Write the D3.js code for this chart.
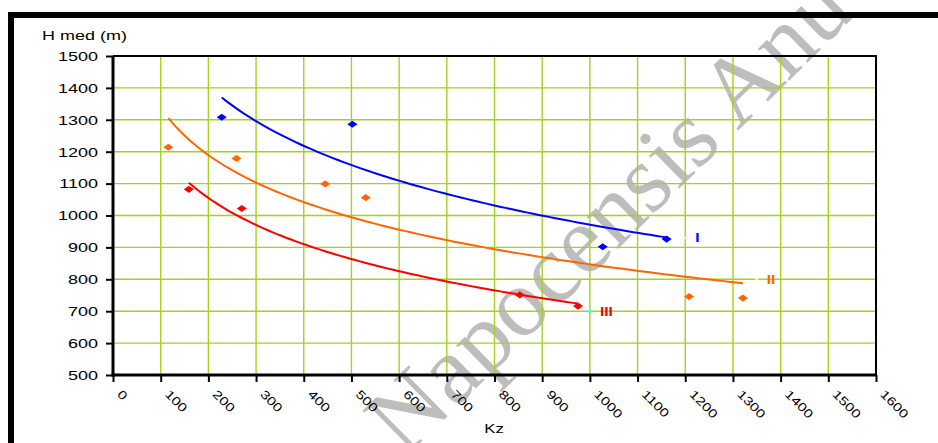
<!DOCTYPE html>
<html>
<head>
<meta charset="utf-8">
<script src="https://cdn.jsdelivr.net/npm/d3@7"></script>
<style>
  body { margin: 0; background: #fff; }
  svg { display: block; }
  text { font-family: "Liberation Sans", Arial, sans-serif; }
</style>
</head>
<body>
<div id="chart"></div>
<script>
// data (Kz, H med)
var kzI = [228, 502, 1027, 1161];
var hI = [1308, 1286, 902, 926];
var kzII = [116, 259, 445, 530, 1208, 1321];
var hII = [1214, 1179, 1099, 1056, 746, 741];
var kzIII = [159, 270, 853, 975];
var hIII = [1082, 1022, 751, 716];

// little label points, with the group names
var labelNames = ["I", "II", "III"];
var labelKz = [1200, 1350, 1000];
var labelH = [930, 800, 700];

var xTicks = [0, 100, 200, 300, 400, 500, 600, 700, 800, 900, 1000, 1100, 1200, 1300, 1400, 1500, 1600];
var yTicks = [500, 600, 700, 800, 900, 1000, 1100, 1200, 1300, 1400, 1500];

var colors = ["#0000ff", "#ff6600", "#ff0000"];
var dotColors = ["#ccffcc", "#ffffcc", "#33ffff"];

var W = 938, H = 443;
var x = d3.scaleLinear().domain([0, 1600]).range([113, 876]);
var y = d3.scaleLinear().domain([500, 1500]).range([375, 56]);

var svg = d3.select("#chart").append("svg")
    .attr("width", W)
    .attr("height", H);

// watermark of the scanned page, under everything
svg.append("text")
    .attr("transform", "translate(405,458) rotate(-44.5)")
    .style("font-family", "'Liberation Serif', 'Times New Roman', serif")
    .style("font-size", "97px")
    .attr("fill", "#bdbdbd")
    .text("Napocensis Anu");

// outer frame
svg.append("rect")
    .attr("x", 11).attr("y", 15)
    .attr("width", 960).attr("height", 460)
    .attr("fill", "none")
    .attr("stroke", "#000")
    .attr("stroke-width", 6);

// grid
svg.append("g").selectAll("line")
    .data(xTicks.filter(function(d) { return d > 0 && d < 1600; }))
    .enter().append("line")
    .attr("x1", function(d) { return x(d); })
    .attr("x2", function(d) { return x(d); })
    .attr("y1", y(1500)).attr("y2", y(500))
    .attr("stroke", "#a4d21e")
    .attr("stroke-width", 1.4);

svg.append("g").selectAll("line")
    .data(yTicks.filter(function(d) { return d > 500 && d < 1500; }))
    .enter().append("line")
    .attr("x1", x(0)).attr("x2", x(1600))
    .attr("y1", function(d) { return y(d); })
    .attr("y2", function(d) { return y(d); })
    .attr("stroke", "#a4d21e")
    .attr("stroke-width", 1.4);

// top and right edge of plot area
svg.append("path")
    .attr("d", "M" + x(0) + "," + y(1500) + "H" + x(1600) + "V" + y(500))
    .attr("fill", "none")
    .attr("stroke", "#000")
    .attr("stroke-width", 2);

// y axis
var yAxis = svg.append("g")
    .attr("transform", "translate(" + x(0) + ",0)")
    .call(d3.axisLeft(y).tickValues(yTicks).tickSize(7).tickFormat(d3.format("d")));
yAxis.select(".domain").attr("stroke-width", 3).attr("d", "M0," + (y(500) + 1.5) + "V" + y(1500));
yAxis.selectAll(".tick line").attr("stroke-width", 2);
yAxis.selectAll(".tick text").remove();
yAxis.selectAll(".tick").append("g")
    .attr("transform", "translate(-15,0) scale(1.5,1)")
    .append("text")
    .attr("fill", "#000")
    .attr("text-anchor", "end")
    .attr("dy", "0.36em")
    .style("font-size", "12px")
    .text(function(d) { return d; });

// x axis
var xAxis = svg.append("g")
    .attr("transform", "translate(0," + y(500) + ")")
    .call(d3.axisBottom(x).tickValues(xTicks).tickSize(7));
xAxis.select(".domain").attr("stroke-width", 3).attr("d", "M" + (x(0) - 1.5) + ",0H" + x(1600));
xAxis.selectAll(".tick line").attr("stroke-width", 2);
xAxis.selectAll(".tick text").remove();
xAxis.selectAll(".tick").append("g")
    .attr("transform", "translate(9,14) rotate(45) scale(1.28,1)")
    .append("text")
    .attr("fill", "#000")
    .attr("text-anchor", "start")
    .attr("dy", "0.71em")
    .style("font-size", "12px")
    .text(function(d) { return d; });

// axis titles
svg.append("text")
    .attr("transform", "translate(42,40) scale(1.5,1)")
    .style("font-size", "12px")
    .text("H med (m)");
svg.append("text")
    .attr("transform", "translate(494,433) scale(1.4,1)")
    .attr("text-anchor", "middle")
    .style("font-size", "12px")
    .text("Kz");

// logarithmic trendline (least squares on ln Kz), drawn over the data range
function logTrend(xs, ys) {
    var lx = xs.map(function(v) { return Math.log(v); });
    var mx = d3.mean(lx), my = d3.mean(ys);
    var sxy = d3.sum(lx, function(v, i) { return (v - mx) * (ys[i] - my); });
    var sxx = d3.sum(lx, function(v) { return (v - mx) * (v - mx); });
    var b = sxy / sxx, a = my - b * mx;
    var lo = d3.min(xs), hi = d3.max(xs);
    var pts = [];
    for (var i = 0; i <= 80; i++) {
        var k = lo + (hi - lo) * i / 80;
        pts.push([k, a + b * Math.log(k)]);
    }
    return pts;
}

var series = [[kzI, hI], [kzII, hII], [kzIII, hIII]];
var line = d3.line()
    .x(function(d) { return x(d[0]); })
    .y(function(d) { return y(d[1]); });

series.forEach(function(s, i) {
    svg.append("path")
        .datum(logTrend(s[0], s[1]))
        .attr("d", line)
        .attr("fill", "none")
        .attr("stroke", colors[i])
        .attr("stroke-width", 2);
});

series.forEach(function(s, i) {
    svg.append("g").selectAll("path")
        .data(s[0].map(function(k, j) { return [k, s[1][j]]; }))
        .enter().append("path")
        .attr("transform", function(d) { return "translate(" + x(d[0]) + "," + y(d[1]) + ")"; })
        .attr("d", "M-5,0L0,-3.6L5,0L0,3.6Z")
        .attr("fill", colors[i]);
});

// group labels
labelNames.forEach(function(name, i) {
    var px = x(labelKz[i]), py = y(labelH[i]);
    svg.append("rect")
        .attr("x", px - 1.5).attr("y", py - 1.5)
        .attr("width", 3).attr("height", 3)
        .attr("fill", dotColors[i]);
    svg.append("text")
        .attr("transform", "translate(" + (px + 10) + "," + py + ") scale(1.3,1)")
        .attr("dy", "0.36em")
        .attr("fill", colors[i])
        .style("font-size", "12px")
        .style("font-weight", "bold")
        .text(name);
});
</script>
</body>
</html>
